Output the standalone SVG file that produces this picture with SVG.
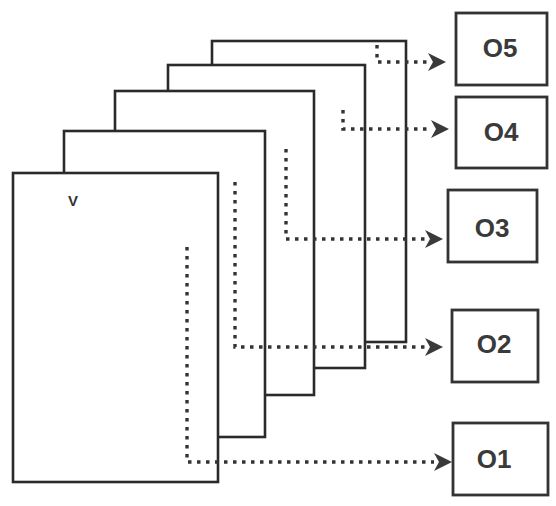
<svg xmlns="http://www.w3.org/2000/svg" width="556" height="506" viewBox="0 0 556 506">
  <defs>
    <style>
      .sheet { fill: #ffffff; stroke: #2a2a2a; stroke-width: 2.6; }
      .box { fill: #ffffff; stroke: #333333; stroke-width: 2.8; }
      .lbl { font-family: "Liberation Sans", Arial, sans-serif; font-weight: bold; font-size: 26px; fill: #3a3a3a; text-anchor: middle; dominant-baseline: central; }
      .mark { font-family: "Liberation Sans", Arial, sans-serif; font-weight: bold; font-size: 15px; fill: #333333; text-anchor: middle; }
      .dot { fill: none; stroke: #333333; stroke-width: 3.4; stroke-dasharray: 3.5 5.5; }
    </style>
    <marker id="arr" markerUnits="userSpaceOnUse" markerWidth="22" markerHeight="20" refX="20" refY="10" orient="auto">
      <path d="M2,1 L20,10 L2,19 L7,10 Z" fill="#3a3a3a"/>
    </marker>
  </defs>
  <rect width="556" height="506" fill="#ffffff"/>

  <g id="sheet5"><rect class="sheet" x="212" y="41" width="194" height="301"/></g>
  <g id="sheet4"><rect class="sheet" x="168" y="65" width="197" height="303"/></g>
  <g id="sheet3"><rect class="sheet" x="115" y="91" width="199" height="304"/></g>
  <g id="sheet2"><rect class="sheet" x="64" y="131" width="201" height="306"/></g>
  <g id="sheet1"><rect class="sheet" x="13" y="173" width="205" height="309"/>
    <text class="mark" x="73" y="206">V</text>
  </g>

  <g id="connectors">
    <path class="dot" d="M377,45 L377,62 L428,62" />
    <line x1="428" y1="62" x2="446" y2="62" stroke="none" marker-end="url(#arr)"/>
    <path class="dot" d="M343,110 L343,129 L431,129"/>
    <line x1="431" y1="129" x2="449" y2="129" stroke="none" marker-end="url(#arr)"/>
    <path class="dot" d="M286,149 L286,239 L425,239"/>
    <line x1="425" y1="239" x2="443" y2="239" stroke="none" marker-end="url(#arr)"/>
    <path class="dot" d="M235,182 L235,347 L425,347"/>
    <line x1="425" y1="347" x2="443" y2="347" stroke="none" marker-end="url(#arr)"/>
    <path class="dot" d="M187,247 L187,462 L434,462"/>
    <line x1="434" y1="462" x2="452" y2="462" stroke="none" marker-end="url(#arr)"/>
  </g>

  <g id="O5"><rect class="box" x="456" y="13" width="91" height="72"/><text class="lbl" x="500" y="48">O5</text></g>
  <g id="O4"><rect class="box" x="456" y="97" width="91" height="71"/><text class="lbl" x="501" y="132">O4</text></g>
  <g id="O3"><rect class="box" x="448" y="190" width="89" height="72"/><text class="lbl" x="492" y="228">O3</text></g>
  <g id="O2"><rect class="box" x="452" y="310" width="86" height="72"/><text class="lbl" x="494" y="344">O2</text></g>
  <g id="O1"><rect class="box" x="453" y="423" width="95" height="72"/><text class="lbl" x="494" y="459">O1</text></g>
</svg>
